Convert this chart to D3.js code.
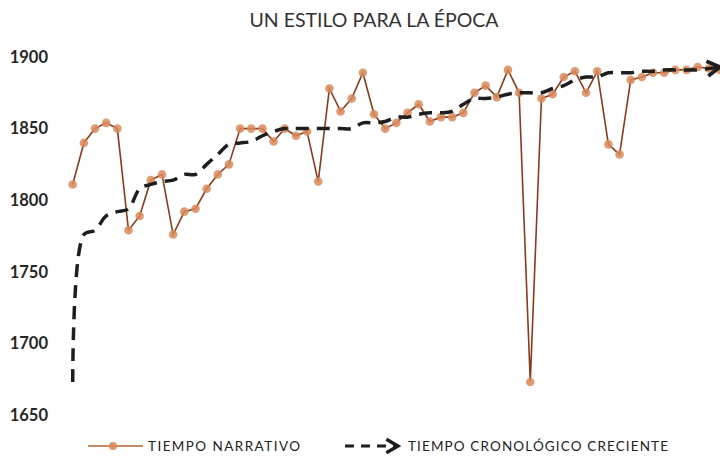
<!DOCTYPE html>
<html>
<head>
<meta charset="utf-8">
<script src="https://cdn.jsdelivr.net/npm/d3@7"></script>
<style>
  body { margin: 0; background: #fff; }
  svg { display: block; font-family: Lato, "Open Sans", sans-serif; }
</style>
</head>
<body>
<svg id="chart" width="720" height="460"></svg>
<script>
// narrative years, in the order of the text
var narrative = [1811, 1840, 1850, 1854, 1850, 1779, 1789, 1814, 1818, 1776,
                 1792, 1794, 1808, 1818, 1825, 1850, 1850, 1850, 1841, 1850,
                 1845, 1848, 1813, 1878, 1862, 1871, 1889, 1860, 1850, 1854,
                 1861, 1867, 1855, 1858, 1858, 1861, 1875, 1880, 1872, 1891,
                 1875, 1673, 1871, 1874, 1886, 1890, 1875, 1890, 1839, 1832,
                 1884, 1886, 1889, 1889, 1891, 1891, 1893, 1892, 1891];
// chronological time = the same years sorted
var chrono = narrative.slice().sort(function (a, b) { return a - b; });
var yTicks = [1650, 1700, 1750, 1800, 1850, 1900];
var title = 'UN ESTILO PARA LA ÉPOCA';
var legendLabels = ['TIEMPO NARRATIVO', 'TIEMPO CRONOLÓGICO CRECIENTE'];

var svg = d3.select('#chart');

var x = d3.scaleLinear().domain([0, narrative.length - 1]).range([72.7, 720]);
var y = d3.scaleLinear().domain([1650, 1900]).range([415, 57]);

var defs = svg.append('defs');
function arrowMarker(id, size) {
  defs.append('marker')
    .attr('id', id)
    .attr('viewBox', '0 0 10 10')
    .attr('refX', 8).attr('refY', 5)
    .attr('markerWidth', size).attr('markerHeight', size)
    .attr('markerUnits', 'strokeWidth')
    .attr('orient', 'auto')
    .append('path')
    .attr('d', 'M1.5,1.2 L8,5 L1.5,8.8')
    .attr('fill', 'none')
    .attr('stroke', '#1e1e1e')
    .attr('stroke-width', 1.9);
}
arrowMarker('arrow', 5.6);
arrowMarker('arrowSmall', 5.6);

// title
svg.append('text')
  .attr('x', 374).attr('y', 27)
  .attr('text-anchor', 'middle')
  .attr('font-size', '19.5px')
  .attr('fill', '#333')
  .text(title);

// y axis, labels only
var yAxis = d3.axisLeft(y).tickValues(yTicks).tickSize(0).tickPadding(0).tickFormat(d3.format('d'));
var gy = svg.append('g').attr('transform', 'translate(48,0)').call(yAxis);
gy.select('.domain').remove();
gy.selectAll('text')
  .attr('font-size', '16.5px')
  .attr('font-weight', 'bold')
  .attr('fill', '#262626')
  .attr('font-family', 'Lato, sans-serif');

// narrative line
var narrLine = d3.line()
  .x(function (d, i) { return x(i); })
  .y(function (d) { return y(d); });

svg.append('path')
  .datum(narrative)
  .attr('d', narrLine)
  .attr('fill', 'none')
  .attr('stroke', '#8b3a1a')
  .attr('stroke-width', 1.6);

svg.selectAll('.dot')
  .data(narrative)
  .enter().append('circle')
  .attr('class', 'dot')
  .attr('cx', function (d, i) { return x(i); })
  .attr('cy', function (d) { return y(d); })
  .attr('r', 4.3)
  .attr('fill', '#d98a5a')
  .attr('fill-opacity', 0.85);

// chronological, smoothed dashed with arrow (drawn on top)
var chronoLine = d3.line()
  .x(function (d, i) { return x(i); })
  .y(function (d) { return y(d); })
  .curve(d3.curveCatmullRom.alpha(0.5));

svg.append('path')
  .datum(chrono)
  .attr('d', chronoLine)
  .attr('fill', 'none')
  .attr('stroke', '#1e1e1e')
  .attr('stroke-width', 3.5)
  .attr('stroke-dasharray', '13,8')
  .attr('marker-end', 'url(#arrow)');

// legend
var lg = svg.append('g').attr('transform', 'translate(0,446)');
lg.append('line')
  .attr('x1', 88).attr('x2', 143).attr('y1', 0).attr('y2', 0)
  .attr('stroke', '#b9602f').attr('stroke-width', 1.6);
lg.append('circle')
  .attr('cx', 113).attr('cy', 0).attr('r', 4)
  .attr('fill', '#d98a5a').attr('fill-opacity', 0.9);
lg.append('text')
  .attr('x', 148).attr('y', 5)
  .attr('font-size', '13.5px').attr('fill', '#222')
  .attr('textLength', 152).attr('lengthAdjust', 'spacing')
  .text(legendLabels[0]);

lg.append('line')
  .attr('x1', 345).attr('x2', 398).attr('y1', 0).attr('y2', 0)
  .attr('stroke', '#1e1e1e').attr('stroke-width', 3.2)
  .attr('stroke-dasharray', '9,7')
  .attr('marker-end', 'url(#arrowSmall)');
lg.append('text')
  .attr('x', 408).attr('y', 5)
  .attr('font-size', '13.5px').attr('fill', '#222')
  .attr('textLength', 260).attr('lengthAdjust', 'spacing')
  .text(legendLabels[1]);
</script>
</body>
</html>
